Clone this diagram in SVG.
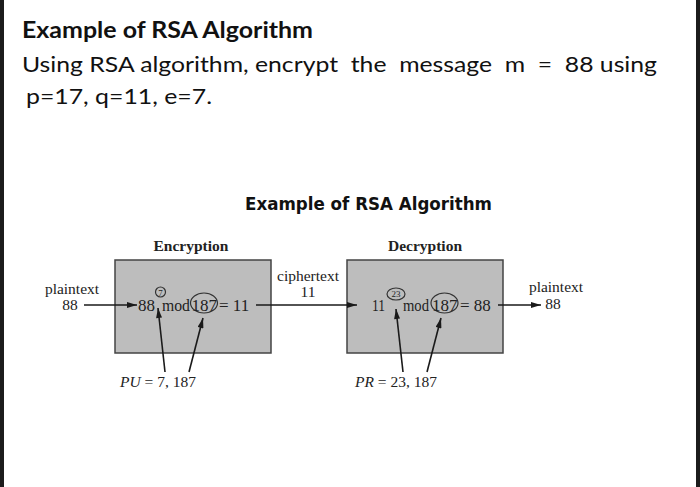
<svg xmlns="http://www.w3.org/2000/svg" width="700" height="487" viewBox="0 0 700 487">
<defs>
<marker id="ah" viewBox="0 0 10 6" refX="10" refY="3" markerWidth="11" markerHeight="6" markerUnits="userSpaceOnUse" orient="auto">
<path d="M0,0 L10,3 L0,6 z" fill="#1a1a1a"/>
</marker>
<style>
.h{font-family:Lato,"Open Sans",sans-serif;font-size:22px;fill:#111}
.s{font-family:"Liberation Serif",serif;font-size:15.5px;fill:#222}
.f{font-family:"Liberation Serif",serif;font-size:17px;fill:#222}
.b{font-weight:bold}
.box{fill:#bdbdbd;stroke:#444;stroke-width:1.5}
.ln{stroke:#1a1a1a;stroke-width:1.6;fill:none}
.ov{fill:none;stroke:#333;stroke-width:1.2}
.sup{font-family:"Liberation Serif",serif;font-size:9px;fill:#222;text-anchor:middle}
</style>
</defs>
<rect x="0" y="0" width="700" height="487" fill="#fff"/>
<rect x="0" y="0" width="4" height="487" fill="#1c1c1c"/>
<rect x="696" y="0" width="4" height="487" fill="#1c1c1c"/>
<text class="h b" x="22" y="38" textLength="291" lengthAdjust="spacingAndGlyphs">Example of RSA Algorithm</text>
<text class="h" x="22" y="72" textLength="635" lengthAdjust="spacingAndGlyphs" xml:space="preserve">Using RSA algorithm, encrypt  the  message  m  =  88 using</text>
<text class="h" x="26" y="104" textLength="186" lengthAdjust="spacingAndGlyphs">p=17, q=11, e=7.</text>
<text x="245" y="210" font-family="'DejaVu Sans',sans-serif" font-size="17" font-weight="bold" fill="#111" textLength="247" lengthAdjust="spacingAndGlyphs">Example of RSA Algorithm</text>
<g id="encryption">
<text class="s b" x="191" y="251" text-anchor="middle">Encryption</text>
<rect class="box" x="115" y="260" width="156" height="93"/>
<text class="f" x="138" y="311">88</text>
<circle class="ov" cx="160.5" cy="292" r="5"/>
<text class="sup" x="160.5" y="295.5">7</text>
<text class="f" x="162" y="311" textLength="28" lengthAdjust="spacingAndGlyphs">mod</text>
<ellipse class="ov" cx="204" cy="303" rx="13.5" ry="10"/>
<text class="f" x="191.5" y="311">187</text>
<text class="f" x="219" y="311">= 11</text>
</g>
<g id="decryption">
<text class="s b" x="425" y="251" text-anchor="middle">Decryption</text>
<rect class="box" x="347" y="260" width="156" height="93"/>
<text class="f" x="372" y="311" textLength="13" lengthAdjust="spacingAndGlyphs">11</text>
<ellipse class="ov" cx="396" cy="294" rx="9" ry="6"/>
<text class="sup" x="396" y="297">23</text>
<text class="f" x="403" y="311" textLength="26" lengthAdjust="spacingAndGlyphs">mod</text>
<ellipse class="ov" cx="444.5" cy="303" rx="13.5" ry="10"/>
<text class="f" x="432" y="311">187</text>
<text class="f" x="460" y="311">= 88</text>
</g>
<g id="plaintext-in">
<text class="s" x="72" y="294" text-anchor="middle">plaintext</text>
<text class="s" x="70" y="310" text-anchor="middle">88</text>
</g>
<g id="ciphertext">
<text class="s" x="308" y="281" text-anchor="middle">ciphertext</text>
<text class="s" x="308" y="297" text-anchor="middle">11</text>
</g>
<g id="plaintext-out">
<text class="s" x="556" y="292" text-anchor="middle">plaintext</text>
<text class="s" x="553" y="309" text-anchor="middle">88</text>
</g>
<g id="pu">
<text class="s" x="120" y="387"><tspan font-style="italic">PU</tspan> = 7, 187</text>
</g>
<g id="pr">
<text class="s" x="355" y="387"><tspan font-style="italic">PR</tspan> = 23, 187</text>
</g>
<g id="connectors">
<line class="ln" x1="84" y1="305" x2="137" y2="305" marker-end="url(#ah)"/>
<line class="ln" x1="256" y1="305" x2="357" y2="305" marker-end="url(#ah)"/>
<line class="ln" x1="498" y1="305" x2="541" y2="305" marker-end="url(#ah)"/>
<line class="ln" x1="165" y1="372" x2="158" y2="308" marker-end="url(#ah)"/>
<line class="ln" x1="189" y1="372" x2="203" y2="318" marker-end="url(#ah)"/>
<line class="ln" x1="403" y1="372" x2="396" y2="309" marker-end="url(#ah)"/>
<line class="ln" x1="427" y1="372" x2="441" y2="318" marker-end="url(#ah)"/>
</g>
</svg>
